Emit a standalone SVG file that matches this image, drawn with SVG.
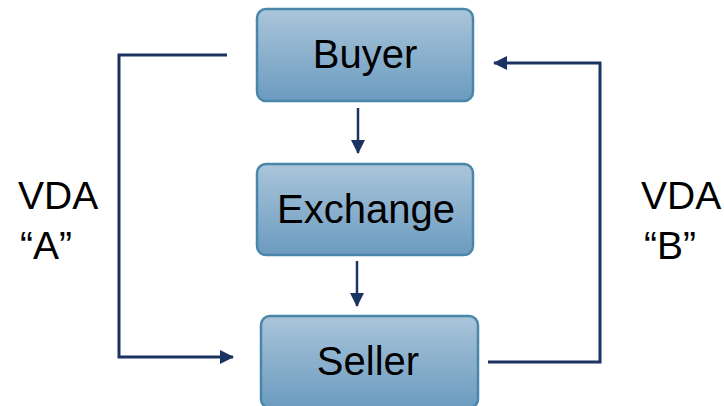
<svg xmlns="http://www.w3.org/2000/svg" width="724" height="406" viewBox="0 0 724 406">
  <defs>
    <linearGradient id="boxFill" x1="0" y1="0" x2="0" y2="1">
      <stop offset="0" stop-color="#aac5da"/>
      <stop offset="1" stop-color="#6b9bbf"/>
    </linearGradient>
    <marker id="arrow" viewBox="0 0 14 14" refX="13" refY="7" markerWidth="14" markerHeight="14" markerUnits="userSpaceOnUse" orient="auto">
      <path d="M0,0 L14,7 L0,14 Z" fill="#1b3361"/>
    </marker>
  </defs>
  <style>
    .box { fill: url(#boxFill); stroke: #4a86aa; stroke-width: 2.5; }
    .label { font-family: "Liberation Sans", Arial, sans-serif; font-size: 40px; fill: #000; text-anchor: middle; }
    .side { font-family: "Liberation Sans", Arial, sans-serif; font-size: 39px; fill: #000; }
    .wire { fill: none; stroke: #1b3361; stroke-width: 3; }
    .link { fill: none; stroke: #1b3361; stroke-width: 2.5; }
  </style>

  <g id="connectors">
    <line class="link" x1="358" y1="108" x2="358" y2="153" marker-end="url(#arrow)"/>
    <line class="link" x1="357" y1="261" x2="357" y2="306" marker-end="url(#arrow)"/>
    <polyline class="wire" points="227,55 119,55 119,357 233,357" marker-end="url(#arrow)"/>
    <polyline class="wire" points="488,362 600,362 600,63 494,63" marker-end="url(#arrow)"/>
  </g>

  <g id="buyer">
    <rect class="box" x="257" y="9" width="216" height="92" rx="9"/>
    <text class="label" x="365" y="68">Buyer</text>
  </g>

  <g id="exchange">
    <rect class="box" x="257" y="164" width="216" height="91" rx="9"/>
    <text class="label" x="366" y="223">Exchange</text>
  </g>

  <g id="seller">
    <rect class="box" x="261" y="316" width="217" height="92" rx="9"/>
    <text class="label" x="368" y="375">Seller</text>
  </g>

  <g id="vda-a">
    <text class="side" x="18" y="209">VDA</text>
    <text class="side" x="20" y="259">“A”</text>
  </g>

  <g id="vda-b">
    <text class="side" x="641" y="209">VDA</text>
    <text class="side" x="644" y="259">“B”</text>
  </g>
</svg>
